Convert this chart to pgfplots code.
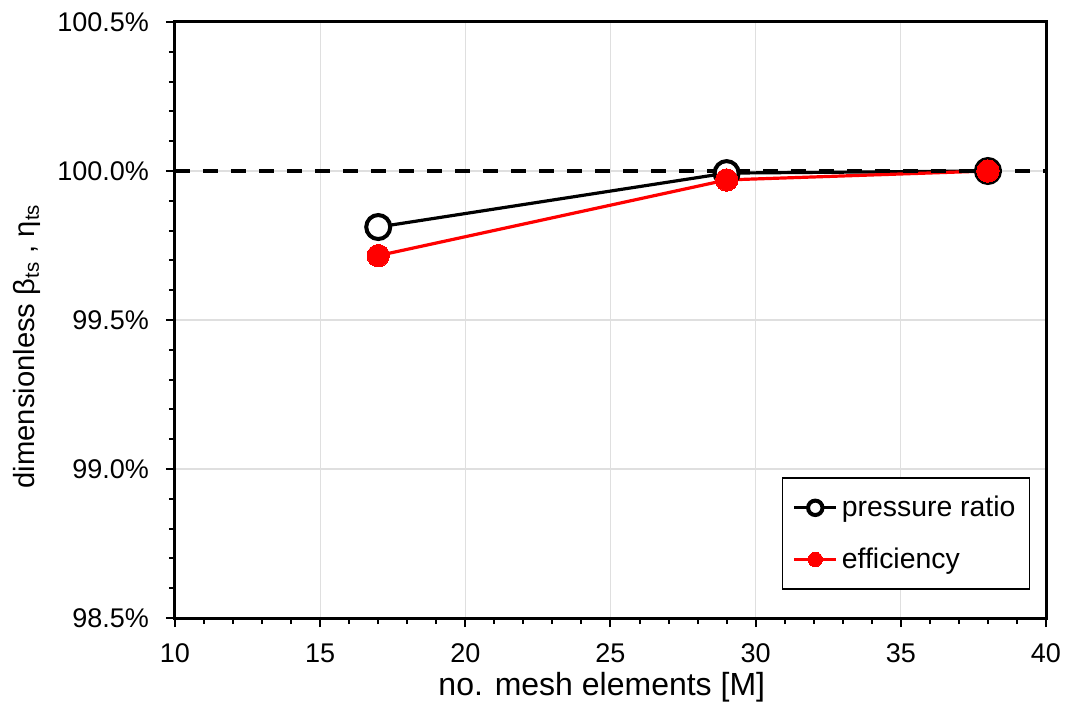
\documentclass[border=0pt]{standalone}
\usepackage{pgfplots}
\pgfplotsset{compat=1.18}
\usepackage{fontspec}
\setmainfont{Liberation Sans}
\begin{document}
\begin{tikzpicture}
\begin{axis}[
  name=ax,
  scale only axis,
  width=435.5pt, height=298pt,
  xmin=10, xmax=40, ymin=98.5, ymax=100.5,
  xtick={10,15,...,40},
  ytick={98.5,99,99.5,100,100.5},
  minor x tick num=4, minor y tick num=4,
  tick pos=left, tick align=outside,
  major tick length=4.5pt, minor tick length=3pt,
  every tick/.style={black, line width=1pt},
  axis line style={line width=1.5pt},
  grid=major,
  major grid style={gray!25, line width=0.6pt},
  /pgf/number format/assume math mode=true,
  yticklabel={\pgfmathprintnumber[fixed,fixed zerofill,precision=1]{\tick}\%},
  xticklabel style={font=\fontsize{13.5}{15}\selectfont, yshift=-5pt},
  yticklabel style={font=\fontsize{13.5}{15}\selectfont, xshift=-5pt},
  xlabel={no. mesh elements [M]},
  ylabel={dimensionless β\textsubscript{ts} , η\textsubscript{ts}},
  xlabel style={font=\fontsize{16}{18}\selectfont, at={([yshift=-34.5pt]rel axis cs:0.49,0)}, anchor=center},
  ylabel style={font=\fontsize{14.6}{17}\selectfont, at={([xshift=-74pt]rel axis cs:0,0.456)}, anchor=center},
  legend style={at={(0.982,0.047)}, anchor=south east, draw=black, line width=0.8pt,
    font=\fontsize{14.2}{16}\selectfont, row sep=10pt, inner xsep=5pt, inner ysep=7pt},
  legend cell align=left,
  legend image code/.code={
    \draw[#1] (0pt,0pt) -- (21pt,0pt);
    \draw[#1, mark size=3.6pt, mark repeat=2, mark phase=2] plot coordinates {(0pt,0pt) (10.5pt,0pt) (21pt,0pt)};
  },
]
\addplot[black, line width=1.6pt, mark=*, mark size=6pt, mark options={fill=white, draw=black, line width=2pt}]
  coordinates {(17,99.812) (29,99.993) (38,100.0)};
\addlegendentry{pressure ratio}
\addplot[red, line width=1.6pt, mark=*, mark size=5.6pt, mark options={fill=red, draw=red, line width=0pt}]
  coordinates {(17,99.716) (29,99.970) (38,100.0)};
\addlegendentry{efficiency}
\addplot[black, line width=2pt, dash pattern=on 7.5pt off 6.5pt, forget plot] coordinates {(10,100) (40,100)};
\end{axis}
\pgfresetboundingbox
\path ([shift={(-87.5pt,-42pt)}]ax.south west) rectangle ([shift={(10pt,11pt)}]ax.north east);
\end{tikzpicture}
\end{document}
